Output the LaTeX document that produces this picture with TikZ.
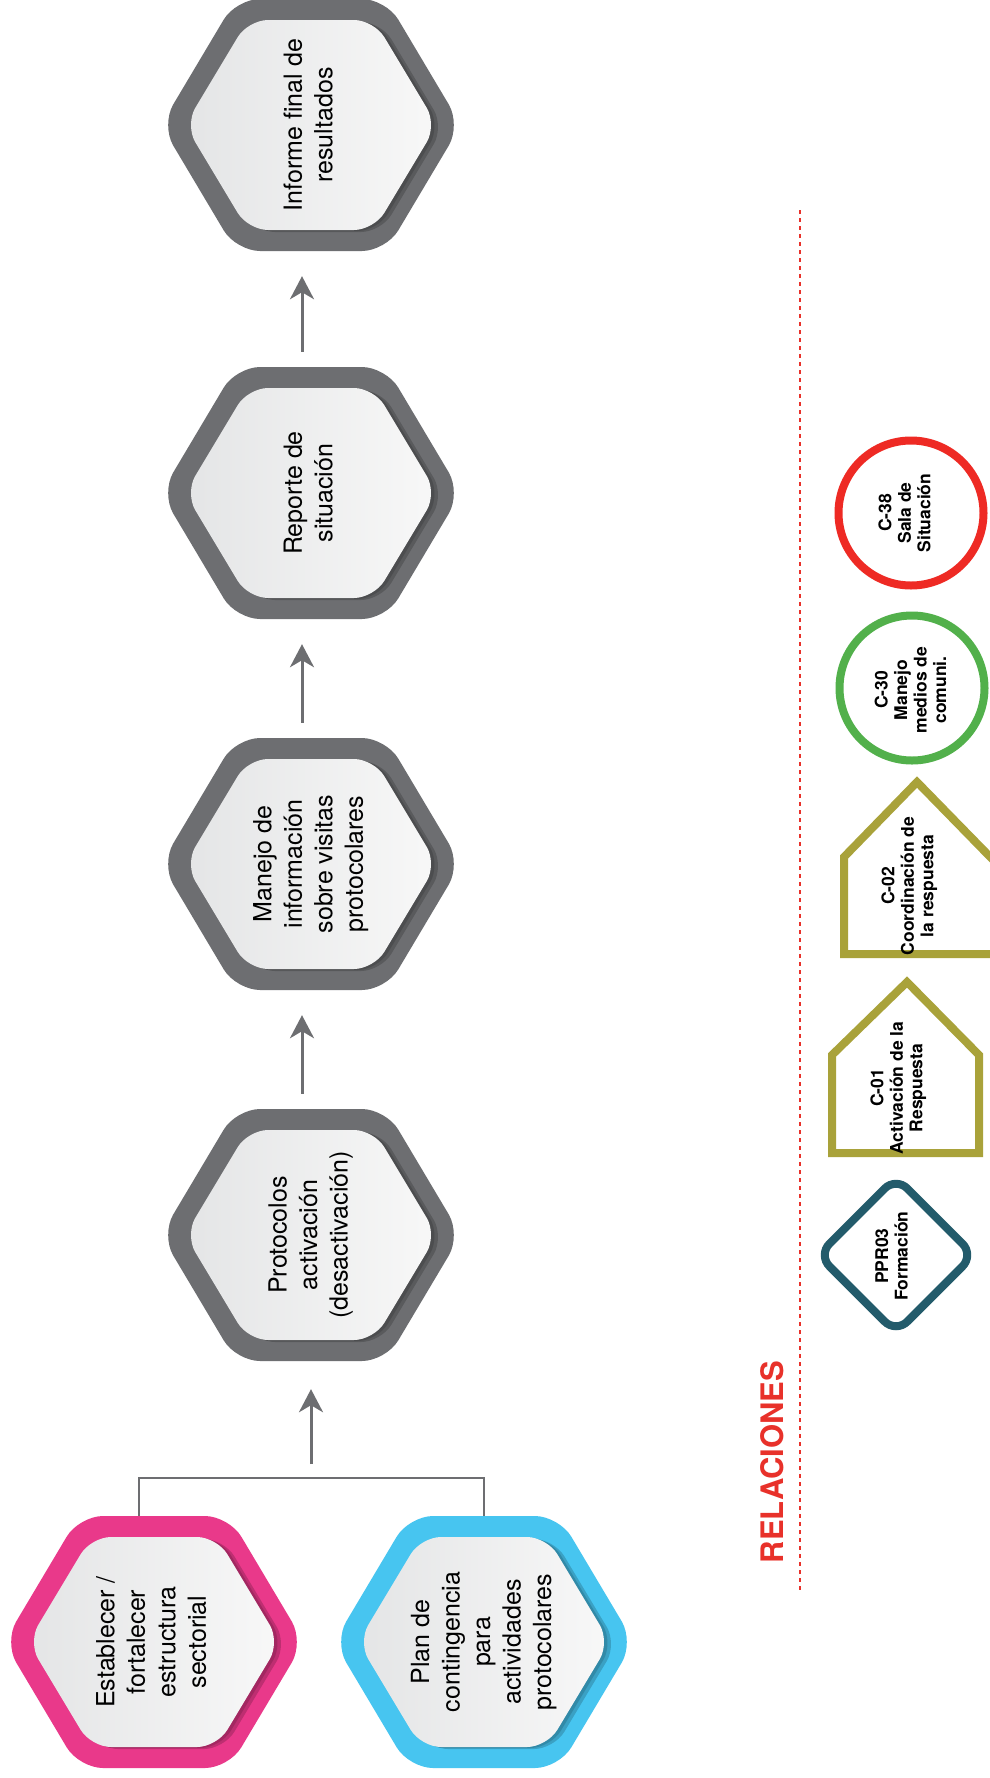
\documentclass[tikz,border=0pt]{standalone}
\usepackage{graphicx}
\usepackage{fontspec}
\setmainfont{TeX Gyre Heros}
\usetikzlibrary{arrows.meta,shapes.geometric}
\definecolor{ringgray}{HTML}{6D6E71}
\definecolor{ringpink}{HTML}{E9398A}
\definecolor{ringblue}{HTML}{47C5F0}
\definecolor{innerL}{HTML}{E4E5E6}
\definecolor{innerR}{HTML}{F8F8F8}
\definecolor{legred}{HTML}{EE2A24}
\definecolor{leggreen}{HTML}{52B04B}
\definecolor{legolive}{HTML}{A9A23A}
\definecolor{legteal}{HTML}{235B6B}
\definecolor{relred}{HTML}{E8312A}
\newcommand{\hexfill}[5]{\fill[#5] ({#1-#3},{#2}) -- ({#1-#3/2},{#2-#4}) -- ({#1+#3/2},{#2-#4}) -- ({#1+#3},{#2}) -- ({#1+#3/2},{#2+#4}) -- ({#1-#3/2},{#2+#4}) -- cycle;}
\newcommand{\hexshade}[4]{\shade[left color=innerL, right color=innerR, rounded corners=20pt] ({#1-#3},{#2}) -- ({#1-#3/2},{#2-#4}) -- ({#1+#3/2},{#2-#4}) -- ({#1+#3},{#2}) -- ({#1+#3/2},{#2+#4}) -- ({#1-#3/2},{#2+#4}) -- cycle;}
\newcommand{\hexbox}[3]{%
  \hexfill{#1}{#2}{150}{126}{#3, rounded corners=24pt}
  \hexfill{#1+7}{#2+2}{126}{105}{black, opacity=.18, rounded corners=20pt}
  \hexfill{#1+3.5}{#2+1}{126}{105}{black, opacity=.14, rounded corners=20pt}
  \hexshade{#1}{#2}{126}{105}}
\newcommand{\rt}[1]{\rotatebox{90}{\fontsize{25}{30.5}\selectfont\begin{tabular}{@{}c@{}}#1\end{tabular}}}
\newcommand{\rl}[1]{\rotatebox{90}{\fontsize{17.5}{19.5}\selectfont\bfseries\begin{tabular}{@{}c@{}}#1\end{tabular}}}
\tikzset{
  hexnode/.style={minimum width=288pt, minimum height=252pt, inner sep=0pt},
  arr/.style={draw=ringgray, line width=3pt, -{Stealth[length=23pt,width=24pt,inset=7pt]}},
  conn/.style={draw=ringgray, line width=2.5pt},
  legtxt/.style={inner sep=0pt},
  legcircle/.style={circle, line width=8pt, minimum size=145pt, inner sep=0pt},
}
\begin{document}
\begin{tikzpicture}[x=1pt,y=-1pt]
\useasboundingbox (0,0) rectangle (990,1778);
\fill[white] (0,0) rectangle (990,1778);

% main hexagons
\hexbox{311}{125}{ringgray}
\node[hexnode] (inf) at (311,125) {\rt{Informe final de\\resultados}};
\hexbox{311}{493}{ringgray}
\node[hexnode] (rep) at (311,493) {\rt{Reporte de\\situación}};
\hexbox{311}{864}{ringgray}
\node[hexnode] (man) at (311,864) {\rt{Manejo de\\información\\sobre visitas\\protocolares}};
\hexbox{311}{1235}{ringgray}
\node[hexnode] (pro) at (311,1235) {\rt{Protocolos\\activación\\(desactivación)}};
\hexbox{154}{1642}{ringpink}
\node[hexnode] (est) at (154,1642) {\rt{Establecer /\\fortalecer\\estructura\\sectorial}};
\hexbox{484}{1642}{ringblue}
\node[hexnode] (plan) at (484,1642) {\rt{Plan de\\contingencia\\para\\actividades\\protocolares}};

% arrows
\draw[arr] ([xshift=-9pt,yshift=15pt]rep.north) -- ([xshift=-9pt,yshift=-25pt]inf.south);
\draw[arr] ([xshift=-9pt,yshift=15pt]man.north) -- ([xshift=-9pt,yshift=-25pt]rep.south);
\draw[arr] ([xshift=-9pt,yshift=15pt]pro.north) -- ([xshift=-9pt,yshift=-25pt]man.south);
\coordinate (junc) at (311,1478);
\draw[conn] ([xshift=-15pt]est.north) |- (plan.north |- junc) -- (plan.north);
\draw[arr] ([yshift=14pt]junc) -- ([yshift=-28pt]pro.south);

% relaciones
\coordinate (dtop) at (800,210);
\coordinate (dbot) at (800,1592);
\draw[relred, line width=2.8pt, dash pattern=on 4pt off 4pt] (dtop) -- (dbot);
\node[rotate=90, text=relred, font=\fontsize{31}{31}\selectfont\bfseries, inner sep=0pt] (rel) at (772,1462) {RELACIONES};

% legend
\node[legcircle, draw=legred] (c38) at (911,513) {};
\node[legtxt] (c38t) at (907,513) {\rl{C-38\\Sala de\\Situación}};
\node[legcircle, draw=leggreen] (c30) at (912,688) {};
\node[legtxt] (c30t) at (913,690) {\rl{C-30\\Manejo\\medios de\\comuni.}};
\draw[legolive, line width=8pt] (844,857) -- (917,782) -- (1000,867) -- (1000,954) -- (844,954) -- cycle;
\node[legtxt] (c02t) at (910,886) {\rl{C-02\\Coordinación de\\la respuesta}};
\draw[legolive, line width=8pt] (832,1055) -- (907,982) -- (979,1055) -- (979,1153) -- (832,1153) -- cycle;
\node[legtxt] (c01t) at (899,1088) {\rl{C-01\\Activación de la\\Respuesta}};
\node[diamond, draw=legteal, line width=8pt, rounded corners=16pt, minimum width=159pt, minimum height=159pt, inner sep=0pt] (ppr) at (896,1255) {};
\node[legtxt] (pprt) at (894,1256) {\rl{PPR03\\Formación}};
\end{tikzpicture}
\end{document}
